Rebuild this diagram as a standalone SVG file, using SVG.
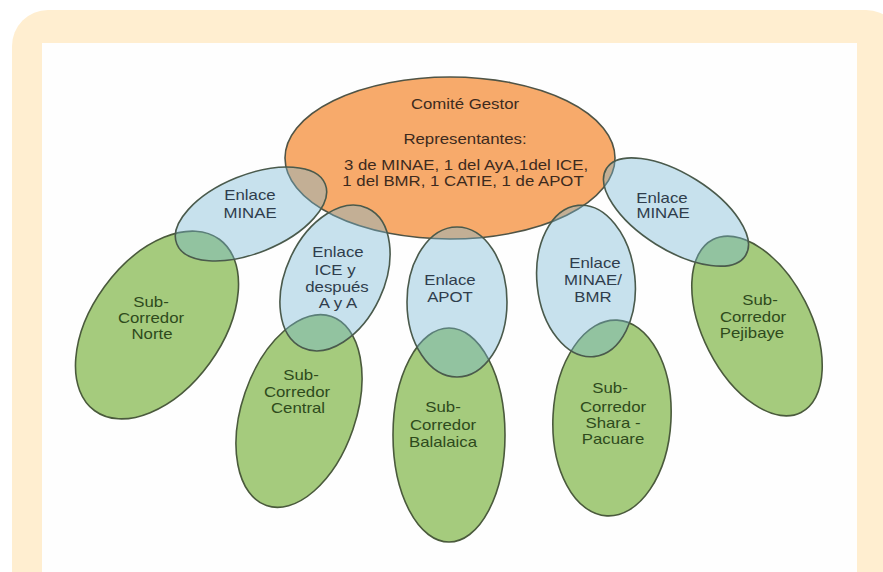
<svg xmlns="http://www.w3.org/2000/svg" width="883" height="572" viewBox="0 0 883 572">
  <style>
    .lbl { font-family: "Liberation Sans", Arial, sans-serif; font-size: 14px; text-anchor: middle; }
    .gestor { fill: #f7aa6b; stroke: #4f5446; stroke-width: 1.6; }
    .sub { fill: #a5cb7d; stroke: #4a5a3c; stroke-width: 1.6; }
    .enlace { fill: #75b6d4; fill-opacity: 0.4; stroke: #4a5a4c; stroke-width: 1.6; }
    .t-gestor { fill: #3d2a1e; }
    .t-sub { fill: #2e4a1c; }
    .t-enlace { fill: #2f3d4c; }
  </style>

  <!-- frame -->
  <rect x="12" y="10" width="890" height="620" rx="36" fill="#ffeed0"/>
  <rect x="42" y="43" width="815" height="540" fill="#fefefe"/>

  <!-- steering committee -->
  <g id="comite-gestor">
    <ellipse class="gestor" cx="450" cy="158" rx="165" ry="81"/>
    <text class="lbl t-gestor" transform="translate(465,109) scale(1.2,1)">Comité Gestor</text>
    <text class="lbl t-gestor" transform="translate(465,144) scale(1.2,1)">Representantes:</text>
    <text class="lbl t-gestor" transform="translate(466,170) scale(1.2,1)">3 de MINAE, 1 del AyA,1del ICE,</text>
    <text class="lbl t-gestor" transform="translate(463,186) scale(1.2,1)">1 del BMR, 1 CATIE, 1 de APOT</text>
  </g>

  <!-- sub-corridors -->
  <g id="sub-norte">
    <ellipse class="sub" cx="0" cy="0" rx="65" ry="106" transform="translate(157,325) rotate(36)"/>
    <text class="lbl t-sub" transform="translate(151,307) scale(1.2,1)">Sub-</text>
    <text class="lbl t-sub" transform="translate(151,323) scale(1.2,1)">Corredor</text>
    <text class="lbl t-sub" transform="translate(152,339) scale(1.2,1)">Norte</text>
  </g>
  <g id="sub-central">
    <ellipse class="sub" cx="0" cy="0" rx="57" ry="100" transform="translate(299,411) rotate(19)"/>
    <text class="lbl t-sub" transform="translate(301,380) scale(1.2,1)">Sub-</text>
    <text class="lbl t-sub" transform="translate(297,397) scale(1.2,1)">Corredor</text>
    <text class="lbl t-sub" transform="translate(298,413) scale(1.2,1)">Central</text>
  </g>
  <g id="sub-balalaica">
    <ellipse class="sub" cx="449" cy="435" rx="56" ry="107"/>
    <text class="lbl t-sub" transform="translate(443,412) scale(1.2,1)">Sub-</text>
    <text class="lbl t-sub" transform="translate(443,430) scale(1.2,1)">Corredor</text>
    <text class="lbl t-sub" transform="translate(443,447) scale(1.2,1)">Balalaica</text>
  </g>
  <g id="sub-shara-pacuare">
    <ellipse class="sub" cx="0" cy="0" rx="59" ry="98" transform="translate(612,418) rotate(3)"/>
    <text class="lbl t-sub" transform="translate(610,393) scale(1.2,1)">Sub-</text>
    <text class="lbl t-sub" transform="translate(613,412) scale(1.2,1)">Corredor</text>
    <text class="lbl t-sub" transform="translate(613,428) scale(1.2,1)">Shara -</text>
    <text class="lbl t-sub" transform="translate(613,444) scale(1.2,1)">Pacuare</text>
  </g>
  <g id="sub-pejibaye">
    <ellipse class="sub" cx="0" cy="0" rx="54" ry="97" transform="translate(757,326) rotate(-27)"/>
    <text class="lbl t-sub" transform="translate(760,305) scale(1.2,1)">Sub-</text>
    <text class="lbl t-sub" transform="translate(753,322) scale(1.2,1)">Corredor</text>
    <text class="lbl t-sub" transform="translate(752,338) scale(1.2,1)">Pejibaye</text>
  </g>

  <!-- liaison bodies -->
  <g id="enlace-minae-izq">
    <ellipse class="enlace" cx="0" cy="0" rx="80" ry="39" transform="translate(251,214) rotate(-22)"/>
    <text class="lbl t-enlace" transform="translate(250,200) scale(1.2,1)">Enlace</text>
    <text class="lbl t-enlace" transform="translate(250,218) scale(1.2,1)">MINAE</text>
  </g>
  <g id="enlace-ice">
    <ellipse class="enlace" cx="0" cy="0" rx="49" ry="77" transform="translate(335,278) rotate(25)"/>
    <text class="lbl t-enlace" transform="translate(338,257) scale(1.2,1)">Enlace</text>
    <text class="lbl t-enlace" transform="translate(335,275) scale(1.2,1)">ICE y</text>
    <text class="lbl t-enlace" transform="translate(337,292) scale(1.2,1)">después</text>
    <text class="lbl t-enlace" transform="translate(338,308) scale(1.2,1)">A y A</text>
  </g>
  <g id="enlace-apot">
    <ellipse class="enlace" cx="457" cy="302" rx="50" ry="75"/>
    <text class="lbl t-enlace" transform="translate(450,285) scale(1.2,1)">Enlace</text>
    <text class="lbl t-enlace" transform="translate(450,302) scale(1.2,1)">APOT</text>
  </g>
  <g id="enlace-minae-bmr">
    <ellipse class="enlace" cx="0" cy="0" rx="49" ry="76" transform="translate(586,281) rotate(-6)"/>
    <text class="lbl t-enlace" transform="translate(595,268) scale(1.2,1)">Enlace</text>
    <text class="lbl t-enlace" transform="translate(593,285) scale(1.2,1)">MINAE/</text>
    <text class="lbl t-enlace" transform="translate(593,302) scale(1.2,1)">BMR</text>
  </g>
  <g id="enlace-minae-der">
    <ellipse class="enlace" cx="0" cy="0" rx="82" ry="38" transform="translate(676,212) rotate(32)"/>
    <text class="lbl t-enlace" transform="translate(662,203) scale(1.2,1)">Enlace</text>
    <text class="lbl t-enlace" transform="translate(663,218) scale(1.2,1)">MINAE</text>
  </g>

  <!-- no separate connector lines: links are shown by overlapping shapes -->
  <g id="connectors"/>
</svg>
